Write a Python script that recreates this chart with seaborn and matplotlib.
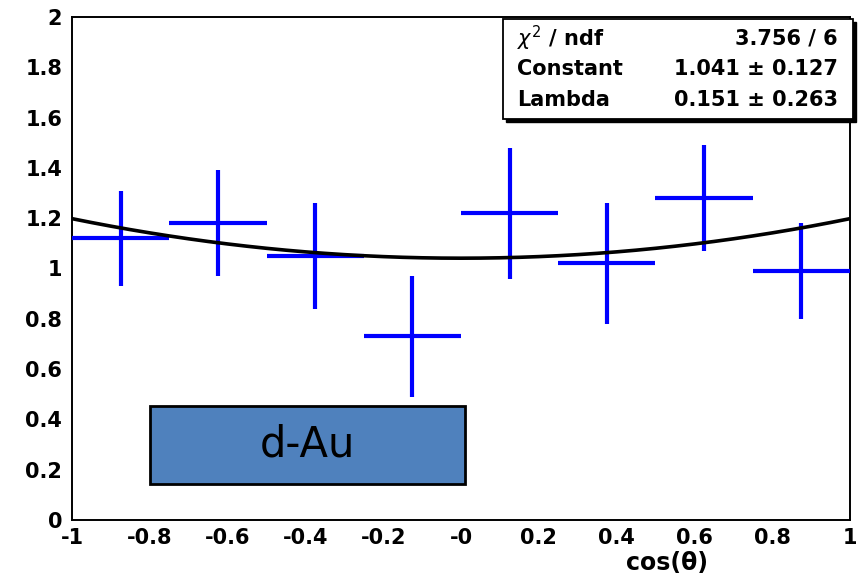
import numpy as np
import matplotlib
matplotlib.use("Agg")
import matplotlib.pyplot as plt
from matplotlib.patches import Rectangle
from matplotlib.ticker import MultipleLocator, FixedLocator
import seaborn as sns
import pandas as pd

sns.set_theme(style="white")
plt.rcParams['font.family'] = ['DejaVu Sans']
plt.rcParams['text.color'] = 'black'
plt.rcParams['xtick.color'] = 'black'
plt.rcParams['ytick.color'] = 'black'
plt.rcParams['axes.labelcolor'] = 'black'

# binned cos(theta) distribution
bin_centers = [-0.875, -0.625, -0.375, -0.125, 0.125, 0.375, 0.625, 0.875]
bin_half_width = [0.125] * 8
counts = [1.12, 1.18, 1.05, 0.73, 1.22, 1.02, 1.28, 0.99]
errors = [0.19, 0.21, 0.21, 0.24, 0.26, 0.24, 0.21, 0.19]

# fit parameters: Constant * (1 + Lambda * x^2)
fit_constant = 1.041
fit_lambda = 0.151
chi2_text = "3.756 / 6"
const_text = "1.041 \u00b1 0.127"
lambda_text = "0.151 \u00b1 0.263"

x_ticks = [-1, -0.8, -0.6, -0.4, -0.2, 0, 0.2, 0.4, 0.6, 0.8, 1]
x_tick_labels = ["-1", "-0.8", "-0.6", "-0.4", "-0.2", "-0", "0.2", "0.4", "0.6", "0.8", "1"]
y_ticks = [0, 0.2, 0.4, 0.6, 0.8, 1, 1.2, 1.4, 1.6, 1.8, 2]
y_tick_labels = ["0", "0.2", "0.4", "0.6", "0.8", "1", "1.2", "1.4", "1.6", "1.8", "2"]

fig = plt.figure(figsize=(8.62, 5.80), dpi=100)
ax = fig.add_axes([72 / 862, 60 / 580, 778 / 862, 503 / 580])

# data points with x-bin widths and y errors
ax.errorbar(bin_centers, counts, xerr=bin_half_width, yerr=errors,
            fmt="none", ecolor="#0000ff", elinewidth=3.0, capsize=0, zorder=3)

# fit curve
xf = np.linspace(-1, 1, 201)
fit_df = pd.DataFrame({"x": xf, "y": fit_constant * (1 + fit_lambda * xf ** 2)})
sns.lineplot(data=fit_df, x="x", y="y", ax=ax, color="black", linewidth=2.6,
             zorder=4, legend=False)

ax.set_xlim(-1, 1)
ax.set_ylim(0, 2)
ax.xaxis.set_major_locator(FixedLocator(x_ticks))
ax.set_xticklabels(x_tick_labels)
ax.yaxis.set_major_locator(FixedLocator(y_ticks))
ax.set_yticklabels(y_tick_labels)
ax.xaxis.set_minor_locator(MultipleLocator(0.05))
ax.yaxis.set_minor_locator(MultipleLocator(0.05))
ax.tick_params(which="both", direction="in", top=False, right=False,
               color="black", width=1.2)
ax.tick_params(which="major", length=19, labelsize=15)
ax.tick_params(axis="x", which="major", pad=6)
ax.tick_params(axis="y", which="major", pad=7)
ax.tick_params(which="minor", length=10)
for lab in ax.get_xticklabels() + ax.get_yticklabels():
    lab.set_fontweight("bold")
for sp in ax.spines.values():
    sp.set_color("black")
    sp.set_linewidth(1.4)

ax.set_xlabel("cos(\u03b8)", fontsize=17, fontweight="bold")
ax.set_ylabel("")
ax.xaxis.set_label_coords(0.765, -0.062)

# d-Au label box
ax.add_patch(Rectangle((-0.8, 0.145), 0.81, 0.31, facecolor="#4f81bd",
                       edgecolor="black", linewidth=2, zorder=5))
ax.text(-0.395, 0.30, "d-Au", ha="center", va="center", fontsize=30,
        color="black", zorder=6)

# fit statistics box with drop shadow
bx0, by0, bw, bh = 503 / 862, 461 / 580, 350 / 862, 100 / 580
fig.patches.append(Rectangle((bx0 + 3 / 862, by0 - 3 / 580), bw, bh,
                             transform=fig.transFigure, facecolor="black",
                             edgecolor="black", zorder=9))
fig.patches.append(Rectangle((bx0, by0), bw, bh, transform=fig.transFigure,
                             facecolor="white", edgecolor="black",
                             linewidth=1.3, zorder=10))
rows = [("$\\chi^{2}$ / ndf", chi2_text), ("Constant", const_text),
        ("Lambda", lambda_text)]
row_y = [38, 69, 100]
for (lab, val), yy in zip(rows, row_y):
    fig.text(517 / 862, 1 - yy / 580, lab, ha="left", va="center",
             fontsize=15, fontweight="bold", zorder=11)
    fig.text(838 / 862, 1 - yy / 580, val, ha="right", va="center",
             fontsize=15, fontweight="bold", zorder=11)

fig.savefig("out.png", dpi=100, facecolor="white")
